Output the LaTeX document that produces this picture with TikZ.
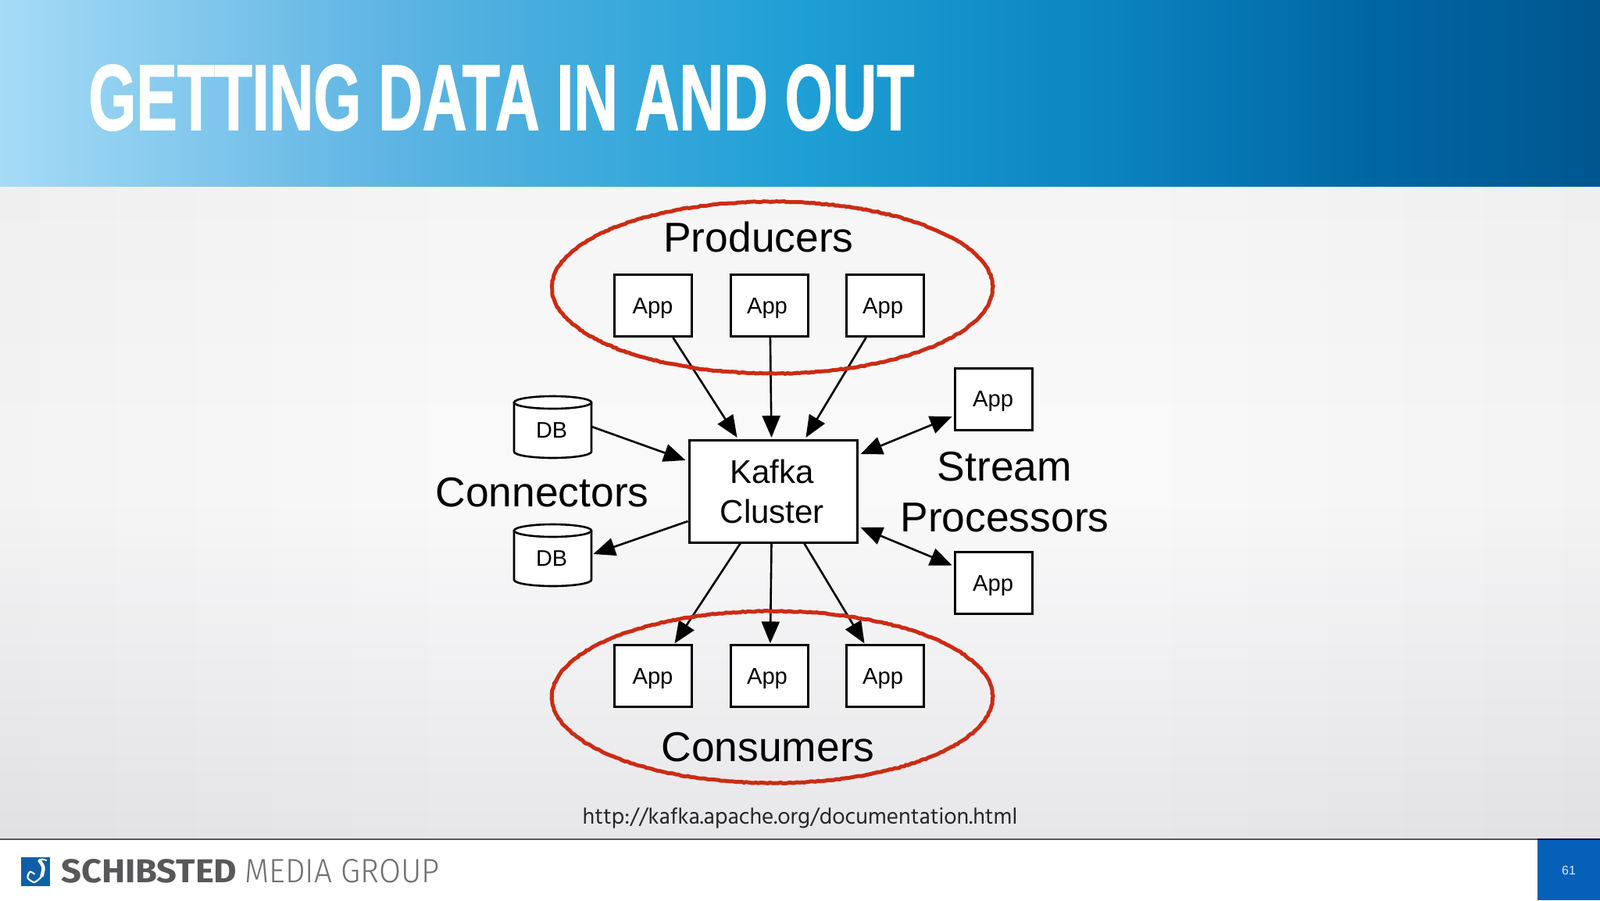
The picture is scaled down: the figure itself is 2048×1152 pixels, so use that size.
\documentclass[tikz,border=0pt]{standalone}
\usepackage{fontspec}
\setmainfont{Liberation Sans}
\newfontfamily\urlfont{Hind Siliguri}
\newfontfamily\logofont{Fira Sans}
\newfontfamily\logolight{Fira Sans Light}
\newfontfamily\titlefont[FakeBold=1.6]{Liberation Sans Bold}
\usetikzlibrary{arrows.meta,decorations.pathmorphing,fadings}
\definecolor{redc}{HTML}{CB2C14}
\definecolor{logob}{HTML}{0F5FA8}
\definecolor{pageb}{HTML}{0460B8}
\definecolor{foot}{HTML}{58585A}
\definecolor{footl}{HTML}{707072}
\definecolor{hA}{HTML}{A6DBF6}
\definecolor{hB}{HTML}{5FB5E3}
\definecolor{hC}{HTML}{1E9FD5}
\definecolor{hD}{HTML}{0A82BE}
\definecolor{hF}{HTML}{0066A3}
\definecolor{hE}{HTML}{00568F}
\definecolor{bgT}{HTML}{F5F5F6}
\definecolor{bgM}{HTML}{F9F9FA}
\definecolor{bgB}{HTML}{E7E7E9}
\pgfdeclarehorizontalshading{hdr}{100bp}{
 color(0bp)=(hA);color(25bp)=(hA);color(37bp)=(hB);color(50bp)=(hC);color(60bp)=(hD);color(68bp)=(hF);color(75bp)=(hE);color(100bp)=(hE)}
\tikzset{
 appbox/.style={draw=black,fill=white,line width=1.5pt,rectangle,inner sep=0pt,minimum width=49.5pt,minimum height=39.5pt,text depth=0pt,font=\fontsize{14.6pt}{16pt}\selectfont},
 kafkabox/.style={draw=black,fill=white,line width=1.5pt,rectangle,inner sep=0pt,minimum width=107.5pt,minimum height=65.5pt,align=center,font=\fontsize{21pt}{25.5pt}\selectfont},
 dbbox/.style={rectangle,inner sep=0pt,minimum width=50pt,minimum height=39.5pt,font=\fontsize{14.4pt}{16pt}\selectfont},
 dbline/.style={draw=black,fill=white,line width=1.3pt},
 biglabel/.style={inner sep=0pt,align=center,font=\fontsize{26.7pt}{32.5pt}\selectfont},
 arr/.style={line width=1.3pt,-{Triangle[length=14pt,width=11.5pt]}},
 biarr/.style={line width=1.3pt,{Triangle[length=14pt,width=11.5pt]}-{Triangle[length=14pt,width=11.5pt]}},
 redring/.style={draw=redc,line width=2.5pt,decorate,decoration={random steps,segment length=1.5pt,amplitude=0.3pt}},
}
\begin{document}
\begin{tikzpicture}[x=0.5pt,y=-0.5pt]
\useasboundingbox (0,0) rectangle (2048,1152);
% background
\shade[top color=bgT,bottom color=bgM] (0,238) rectangle (2048,560);
\fill[bgM] (0,560) rectangle (2048,640);
\shade[top color=bgM,bottom color=bgB] (0,640) rectangle (2048,1073);
\fill[black,opacity=0.025,path fading=east] (0,238) rectangle (600,1073);
\fill[black,opacity=0.025,path fading=west] (1448,238) rectangle (2048,1073);
\fill[white] (0,1073) rectangle (2048,1152);
\shade[shading=hdr] (0,0) rectangle (2048,238);
\draw[foot,line width=1pt] (0,1073.5) -- (1968,1073.5);
\fill[pageb] (1968,1073) rectangle (2048,1152);
\draw[black!70!blue,line width=1pt] (1968,1073.5) -- (2048,1073.5);
% title
\node[anchor=west,inner sep=0pt,text=white,font=\titlefont\fontsize{57pt}{60pt}\selectfont] (title) at (113,125) {\resizebox{528.5pt}{41.5pt}{GETTING DATA IN AND OUT}};
% nodes
\node[appbox] (p1) at (835.5,391) {App};
\node[appbox] (p2) at (984.5,391) {App\kern2.5pt};
\node[appbox] (p3) at (1132.5,391) {App\kern2.5pt};
\node[appbox] (c1) at (835.5,865) {App};
\node[appbox] (c2) at (984.5,865) {App\kern2.5pt};
\node[appbox] (c3) at (1132.5,865) {App\kern2.5pt};
\node[appbox] (s1) at (1272,510.5) {App\kern1pt};
\node[appbox] (s2) at (1272,746) {App\kern1pt};
\node[kafkabox] (k) at (989.5,628.5) {Kafka\kern1.3pt\\Cluster\kern1.3pt};
% database cylinders
\draw[dbline] (658,515) -- (658,578) arc[start angle=180,end angle=360,x radius=49.5,y radius=-8] -- (757,515);
\draw[dbline] (707.5,515) ellipse [x radius=49.5,y radius=8];
\draw[dbline] (658,679) -- (658,742) arc[start angle=180,end angle=360,x radius=49.5,y radius=-8] -- (757,679);
\draw[dbline] (707.5,679) ellipse [x radius=49.5,y radius=8];
\node[dbbox] (d1) at (706,551) {DB};
\node[dbbox] (d2) at (706,715) {DB};
% labels
\node[biglabel] (lp) at (971,303) {Producers};
\node[biglabel] (lc) at (983,956) {Consumers};
\node[biglabel] (lk) at (694,630) {Connectors};
\node[biglabel] (ls) at (1286,630) {Stream\\Processors};
\node[inner sep=0pt,font=\urlfont\fontsize{14.55pt}{18pt}\selectfont,text=black!85] (url) at (1024,1047) {http://kafka.apache.org/documentation.html};
% connectors
\draw[arr] ([xshift=13pt]p1.south) -- ([xshift=-23pt,yshift=0.8pt]k.north);
\draw[arr] ([xshift=0.7pt]p2.south) -- ([xshift=-1pt,yshift=0.8pt]k.north);
\draw[arr] ([xshift=-12pt]p3.south) -- ([xshift=21pt,yshift=0.8pt]k.north);
\draw[arr] ([xshift=-21pt]k.south) -- ([xshift=14pt,yshift=0.3pt]c1.north);
\draw[arr] ([xshift=-1pt]k.south) -- ([xshift=0.7pt,yshift=0.3pt]c2.north);
\draw[arr] ([xshift=20pt]k.south) -- ([xshift=-13pt,yshift=0.3pt]c3.north);
\draw[arr] ([xshift=0.5pt,yshift=2.5pt]d1.east) -- ([xshift=-1.5pt,yshift=19.75pt]k.west);
\draw[arr] ([yshift=-19.25pt]k.west) -- ([xshift=1.5pt,yshift=3pt]d2.east);
\draw[biarr] ([xshift=1.5pt,yshift=23.75pt]k.east) -- ([xshift=-1.2pt,yshift=-11.25pt]s1.west);
\draw[biarr] ([xshift=1.5pt,yshift=-23.25pt]k.east) -- ([xshift=-1.2pt,yshift=11.25pt]s2.west);
% red rings
\draw[redring] (988.5,368) ellipse [x radius=282,y radius=110];
\draw[redring] (988.5,892) ellipse [x radius=282,y radius=110];
% footer
\node[anchor=west,inner sep=0pt,text=foot,font=\logofont\bfseries\fontsize{20pt}{22pt}\selectfont] (schib) at (78,1115) {\resizebox{112.5pt}{15pt}{SCHIBSTED}};
\node[anchor=west,inner sep=0pt,text=footl,font=\logolight\fontsize{20pt}{22pt}\selectfont] (media) at (313,1115) {\resizebox{124.5pt}{15pt}{MEDIA GROUP}};
\node[fill=logob,rectangle,inner sep=0pt,minimum size=18.5pt] (logo) at (45.5,1115.5) {};
\draw[white,line width=1pt,line cap=round] plot[smooth] coordinates {(59.3,1101) (54,1099.5) (50,1100.5)};
\draw[white,line width=2.2pt] plot[smooth] coordinates {(50,1100.5) (55.5,1110) (53.3,1121.7)};
\draw[white,line width=1.1pt,line cap=round] plot[smooth] coordinates {(53.3,1121.7) (44,1129) (35.5,1123.3) (38.3,1115.7) (44,1118.3)};
\node[inner sep=0pt,text=white!85!pageb,font=\fontsize{8pt}{10pt}\selectfont] (page) at (2008,1114) {61};
\end{tikzpicture}
\end{document}
